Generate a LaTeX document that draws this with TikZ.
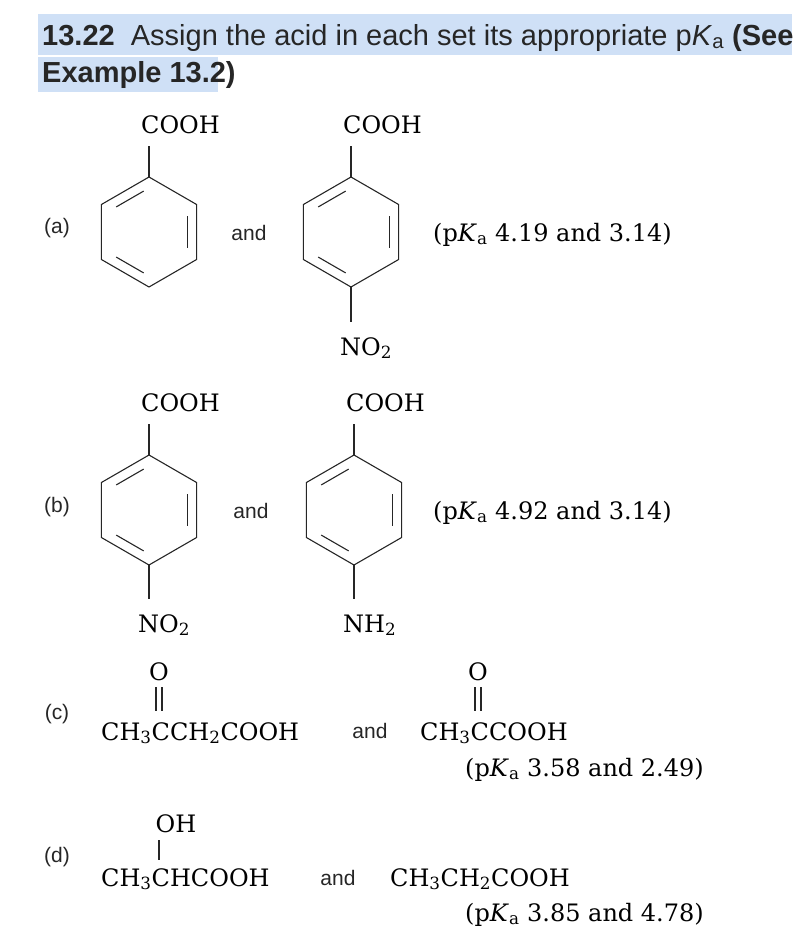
\documentclass[tikz,border=0pt]{standalone}
\usepackage{fontspec}
\usetikzlibrary{calc}
\newfontfamily\hv{Liberation Sans}
\newfontfamily\sr{DejaVu Serif}
\definecolor{hl}{HTML}{CFE0F6}
\newcommand\ring[3]{%
 \begin{scope}[shift={(#1,#2)}]
  \coordinate (#3t) at (0,-55); \coordinate (#3b) at (0,55);
  \draw[bond] (0,-55)--(47.6,-27.5)--(47.6,27.5)--(0,55)--(-47.6,27.5)--(-47.6,-27.5)--cycle;
  \draw[bond] ($(0,-44)!0.14!(-38.1,-22)$)--($(0,-44)!0.86!(-38.1,-22)$);
  \draw[bond] ($(38.1,-22)!0.14!(38.1,22)$)--($(38.1,-22)!0.86!(38.1,22)$);
  \draw[bond] ($(0,44)!0.14!(-38.1,22)$)--($(0,44)!0.86!(-38.1,22)$);
 \end{scope}}
\begin{document}
\begin{tikzpicture}[x=1pt,y=-1pt,
  chem/.style={inner sep=0pt,font=\sr\fontsize{24}{30}\selectfont},
  lab/.style={inner sep=0pt,font=\hv\fontsize{29}{30}\selectfont,text=black!85},
  sm/.style={inner sep=0pt,font=\hv\fontsize{21}{24}\selectfont,text=black!85},
  bond/.style={line width=1.1pt,black!85}]
\useasboundingbox (0,0) rectangle (802,935);
\fill[hl] (38,14) rectangle (792,55);
\fill[hl] (38,57) rectangle (218,92);
\node[lab,anchor=base west] (h1) at (42,45) {\textbf{13.22}\ \ Assign the acid in each set its appropriate p\textit{K}\textsubscript{a} \textbf{(See}};
\node[lab,anchor=base west] (h2) at (42,82) {\textbf{Example 13.2)}};
% (a)
\node[sm] (la) at (57,228) {(a)};
\ring{149}{232}{A}
\ring{351}{232}{B}
\node[chem,anchor=base west] (A1) at (141,133) {COOH};
\node[chem,anchor=base west] (B1) at (343,133) {COOH};
\draw[bond] (At) -- (149,146);
\draw[bond] (Bt) -- (351,146);
\draw[bond] (Bb) -- (351,322);
\node[chem,anchor=base west] (B2) at (340,355) {NO\textsubscript{2}};
\node[sm] (a1) at (249,233) {and};
\node[chem,anchor=base west] (pa) at (433,241) {(p\textit{K}\textsubscript{a} 4.19 and 3.14)};
% (b)
\node[sm] (lb) at (57,507) {(b)};
\ring{149}{510}{C}
\ring{354}{510}{D}
\node[chem,anchor=base west] (C1) at (141,411) {COOH};
\node[chem,anchor=base west] (D1) at (346,411) {COOH};
\draw[bond] (Ct) -- (149,424);
\draw[bond] (Dt) -- (354,424);
\draw[bond] (Cb) -- (149,599);
\draw[bond] (Db) -- (354,599);
\node[chem,anchor=base west] (C2) at (138,632) {NO\textsubscript{2}};
\node[chem,anchor=base west] (D2) at (343,632) {NH\textsubscript{2}};
\node[sm] (b1) at (251,511) {and};
\node[chem,anchor=base west] (pb) at (433,519) {(p\textit{K}\textsubscript{a} 4.92 and 3.14)};
% (c)
\node[sm] (lc) at (57,714) {(c)};
\node[chem,anchor=base west] (c1) at (101,740) {CH\textsubscript{3}CCH\textsubscript{2}COOH};
\node[chem] (cO1) at (159,672) {O};
\draw[bond] (156,687)--(156,711) (162,687)--(162,711);
\node[sm] (c2) at (370,731) {and};
\node[chem,anchor=base west] (c3) at (420,740) {CH\textsubscript{3}CCOOH};
\node[chem] (cO2) at (478,672) {O};
\draw[bond] (475,687)--(475,711) (481,687)--(481,711);
\node[chem,anchor=base west] (pc) at (465,776) {(p\textit{K}\textsubscript{a} 3.58 and 2.49)};
% (d)
\node[sm] (ld) at (57,857) {(d)};
\node[chem,anchor=base west] (d1) at (101,886) {CH\textsubscript{3}CHCOOH};
\node[chem] (dOH) at (176,824) {OH};
\draw[bond] (159,840)--(159,860);
\node[sm] (d2) at (338,878) {and};
\node[chem,anchor=base west] (d3) at (390,886) {CH\textsubscript{3}CH\textsubscript{2}COOH};
\node[chem,anchor=base west] (pd) at (465,921) {(p\textit{K}\textsubscript{a} 3.85 and 4.78)};
\end{tikzpicture}
\end{document}
